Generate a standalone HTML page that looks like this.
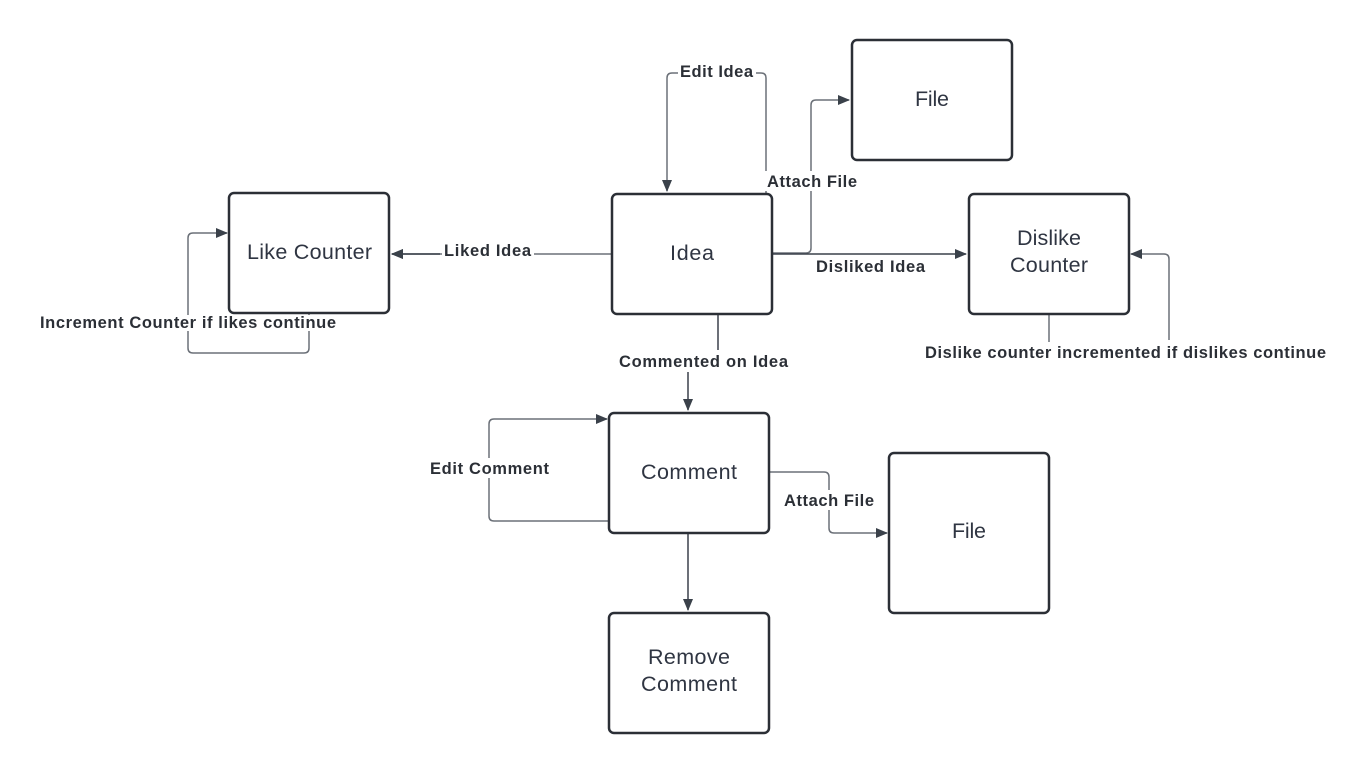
<!DOCTYPE html>
<html><head><meta charset="utf-8"><style>
html,body{margin:0;padding:0;background:#fff;}
svg{display:block;}
.b{fill:#fff;stroke:#2b2f36;stroke-width:2.5;}
.t{font-family:"Liberation Sans",sans-serif;font-size:21.5px;fill:#2f3542;}
.l{font-family:"Liberation Sans",sans-serif;font-size:16.5px;font-weight:bold;fill:#2b2f36;}
.c{fill:none;stroke:#3a414a;stroke-width:1.5;}
.g{fill:none;stroke:#6b7078;stroke-width:1.5;}
</style></head><body>
<svg width="1367" height="773" viewBox="0 0 1367 773">
<defs><marker id="a" markerWidth="12" markerHeight="10" refX="11" refY="5" orient="auto" markerUnits="userSpaceOnUse"><path d="M0,0 L12,5 L0,10 z" fill="#3a414a"/></marker></defs>
<path class="g" d="M766,193 V78 Q766,73 761,73 H672 Q667,73 667,78 V191" marker-end="url(#a)"/>
<path class="g" d="M772,253 H806 Q811,253 811,248 V105 Q811,100 816,100 H849" marker-end="url(#a)"/>
<path class="c" d="M772,254 H966" marker-end="url(#a)"/>
<path class="g" d="M612,254 H392" marker-end="url(#a)"/>
<path class="c" d="M440,254 H392" marker-end="url(#a)"/>
<path class="g" d="M309,313 V348 Q309,353 304,353 H193 Q188,353 188,348 V238 Q188,233 193,233 H227" marker-end="url(#a)"/>
<path class="g" d="M1049,314 V342"/>
<path class="g" d="M1169,340 V259 Q1169,254 1164,254 H1131" marker-end="url(#a)"/>
<path class="c" d="M718,314 V350"/>
<path class="c" d="M688,372 V410" marker-end="url(#a)"/>
<path class="g" d="M609,521 H494 Q489,521 489,516 V424 Q489,419 494,419 H607" marker-end="url(#a)"/>
<path class="g" d="M769,472 H824 Q829,472 829,477 V528 Q829,533 834,533 H887" marker-end="url(#a)"/>
<path class="c" d="M688,533 V610" marker-end="url(#a)"/>
<!-- labels backgrounds -->
<rect x="678" y="62" width="78" height="18" fill="#fff"/>
<rect x="765" y="171" width="94" height="20" fill="#fff"/>
<rect x="442" y="242" width="92" height="18" fill="#fff"/>
<rect x="38" y="315" width="300" height="16" fill="#fff"/>
<rect x="617" y="351" width="174" height="20" fill="#fff"/>
<rect x="428" y="458" width="124" height="20" fill="#fff"/>
<rect x="782" y="490" width="94" height="20" fill="#fff"/>
<!-- boxes -->
<rect class="b" x="229" y="193" width="160" height="120" rx="5"/>
<rect class="b" x="612" y="194" width="160" height="120" rx="5"/>
<rect class="b" x="852" y="40" width="160" height="120" rx="5"/>
<rect class="b" x="969" y="194" width="160" height="120" rx="5"/>
<rect class="b" x="609" y="413" width="160" height="120" rx="5"/>
<rect class="b" x="889" y="453" width="160" height="160" rx="5"/>
<rect class="b" x="609" y="613" width="160" height="120" rx="5"/>
<text class="t" x="247" y="259" textLength="125">Like Counter</text>
<text class="t" x="670" y="260" textLength="44">Idea</text>
<text class="t" x="915" y="106" textLength="34">File</text>
<text class="t" x="1017" y="245" textLength="64">Dislike</text>
<text class="t" x="1010" y="272" textLength="78">Counter</text>
<text class="t" x="641" y="479" textLength="96">Comment</text>
<text class="t" x="952" y="538" textLength="34">File</text>
<text class="t" x="648" y="664" textLength="82">Remove</text>
<text class="t" x="641" y="691" textLength="96">Comment</text>
<!-- labels -->
<text class="l" x="680" y="77" textLength="73">Edit Idea</text>
<text class="l" x="767" y="187" textLength="90">Attach File</text>
<text class="l" x="816" y="272" textLength="109">Disliked Idea</text>
<text class="l" x="444" y="256" textLength="87">Liked Idea</text>
<text class="l" x="40" y="328" textLength="296">Increment Counter if likes continue</text>
<text class="l" x="925" y="358" textLength="401">Dislike counter incremented if dislikes continue</text>
<text class="l" x="619" y="367" textLength="169">Commented on Idea</text>
<text class="l" x="430" y="474" textLength="119">Edit Comment</text>
<text class="l" x="784" y="506" textLength="90">Attach File</text>
</svg>
</body></html>
